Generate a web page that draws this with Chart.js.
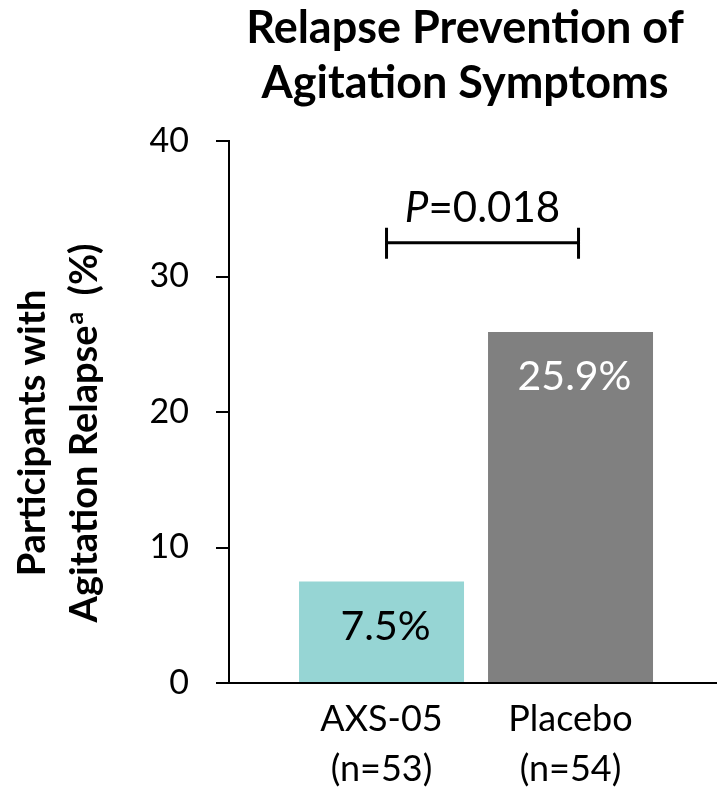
<!DOCTYPE html>
<html>
<head>
<meta charset="utf-8">
<script src="https://cdn.jsdelivr.net/npm/chart.js@4.4.1/dist/chart.umd.min.js"></script>
<style>
  html, body { margin: 0; padding: 0; background: #fff; }
  #wrap { width: 717px; height: 789px; position: relative; }
</style>
</head>
<body>
<div id="wrap"><canvas id="c" width="717" height="789"></canvas></div>
<script>
// ---- Data ----
const categories = ["AXS-05", "Placebo"];
const sampleSizes = ["(n=53)", "(n=54)"];
const relapsePct = [7.5, 25.9];
const valueLabels = ["7.5%", "25.9%"];
const barColors = ["#96D5D4", "#808080"];
const labelColors = ["#000000", "#ffffff"];
const yTicks = [0, 10, 20, 30, 40];
const titleLines = ["Relapse Prevention of", "Agitation Symptoms"];
const yTitleLine1 = "Participants with";
const yTitleLine2 = ["Agitation Relapse", "a", " (%)"];
const pValueText = "0.018";
const bracketLevel = 32.5;   // y-value where significance bracket sits
const pTextLevel = 35.0;     // y-value of the p-value text middle

const FONT = "Lato, 'Open Sans', sans-serif";

const overlay = {
  id: 'overlay',
  afterDraw(chart) {
    const ctx = chart.ctx;
    const xs = chart.scales.x, ys = chart.scales.y;
    ctx.save();
    // Title
    ctx.fillStyle = '#000';
    ctx.textAlign = 'center';
    ctx.textBaseline = 'alphabetic';
    ctx.font = `bold 45px ${FONT}`;
    ctx.fillText(titleLines[0], 465, 43);
    ctx.fillText(titleLines[1], 465, 98);

    // Y-axis title (rotated, two lines, with superscript)
    ctx.save();
    ctx.translate(0, 433);
    ctx.rotate(-Math.PI / 2);
    ctx.textAlign = 'center';
    ctx.textBaseline = 'alphabetic';
    const big = `bold 38px ${FONT}`, small = `bold 25px ${FONT}`;
    ctx.font = big;
    ctx.fillText(yTitleLine1, 0, 45);
    // line 2 with superscript
    const gapA = 1, gapB = 7;
    ctx.font = big; const w1 = ctx.measureText(yTitleLine2[0]).width;
    ctx.font = small; const w2 = ctx.measureText(yTitleLine2[1]).width;
    ctx.font = big; const w3 = ctx.measureText(yTitleLine2[2]).width;
    let sx = -(w1 + w2 + w3 + gapA + gapB) / 2;
    ctx.textAlign = 'left';
    ctx.font = big; ctx.fillText(yTitleLine2[0], sx, 97); sx += w1 + gapA;
    ctx.font = small; ctx.fillText(yTitleLine2[1], sx, 83); sx += w2 + gapB;
    ctx.font = big; ctx.fillText(yTitleLine2[2], sx, 97);
    ctx.restore();

    // Value labels inside bars
    const meta = chart.getDatasetMeta(0);
    ctx.textAlign = 'center';
    ctx.textBaseline = 'middle';
    ctx.font = `41px ${FONT}`;
    meta.data.forEach((bar, i) => {
      ctx.fillStyle = labelColors[i];
      ctx.fillText(valueLabels[i], bar.x + 4, bar.y + 45);
    });

    // Significance bracket
    const xa = xs.getPixelForValue(0) + 5;
    const xb = xs.getPixelForValue(1) + 8;
    const yb = ys.getPixelForValue(bracketLevel);
    ctx.strokeStyle = '#000';
    ctx.lineWidth = 3;
    ctx.beginPath();
    ctx.moveTo(xa, yb); ctx.lineTo(xb, yb);
    ctx.moveTo(xa, yb - 15); ctx.lineTo(xa, yb + 16);
    ctx.moveTo(xb, yb - 15); ctx.lineTo(xb, yb + 16);
    ctx.stroke();

    // p-value text
    const yt = ys.getPixelForValue(pTextLevel);
    ctx.fillStyle = '#000';
    ctx.textBaseline = 'middle';
    const fi = `italic 42px ${FONT}`, fr = `42px ${FONT}`;
    ctx.font = fi; const pw = ctx.measureText('P').width;
    ctx.font = fr; const rw = ctx.measureText('=' + pValueText).width;
    let px = (xa + xb) / 2 - (pw + rw) / 2;
    ctx.textAlign = 'left';
    ctx.font = fi; ctx.fillText('P', px, yt);
    ctx.font = fr; ctx.fillText('=' + pValueText, px + pw, yt);
    ctx.restore();
  }
};

new Chart(document.getElementById('c'), {
  type: 'bar',
  data: {
    datasets: [{
      data: relapsePct.map((v, i) => ({ x: i, y: v })),
      backgroundColor: barColors,
      borderWidth: 0,
      barPercentage: 0.873,
      categoryPercentage: 1.0
    }]
  },
  options: {
    responsive: false,
    animation: false,
    events: [],
    layout: { padding: { top: 141, right: 0, bottom: 0, left: 0 } },
    plugins: { legend: { display: false }, tooltip: { enabled: false }, title: { display: false } },
    scales: {
      x: {
        type: 'linear',
        offset: false,
        min: -0.807,
        max: 1.775,
        afterBuildTicks: (scale) => { scale.ticks = categories.map((c, i) => ({ value: i })); },
        afterFit: (scale) => { scale.height = 106; },
        grid: { display: true, drawOnChartArea: false, drawTicks: false, offset: false },
        border: { display: true, color: '#000', width: 2 },
        ticks: {
          color: '#000',
          font: { family: FONT, size: 36, lineHeight: 1.38 },
          padding: 12,
          maxRotation: 0,
          autoSkip: false,
          callback: (v) => [categories[v], sampleSizes[v]]
        }
      },
      y: {
        min: 0,
        max: 40,
        afterBuildTicks: (scale) => { scale.ticks = yTicks.map(v => ({ value: v })); },
        afterFit: (scale) => { scale.width = 229; },
        grid: { display: true, drawOnChartArea: false, drawTicks: true, tickLength: 13, color: '#000', lineWidth: 2 },
        border: { display: true, color: '#000', width: 2 },
        ticks: {
          color: '#000',
          font: { family: FONT, size: 34 },
          padding: 27
        }
      }
    }
  },
  plugins: [overlay]
});
</script>
</body>
</html>
